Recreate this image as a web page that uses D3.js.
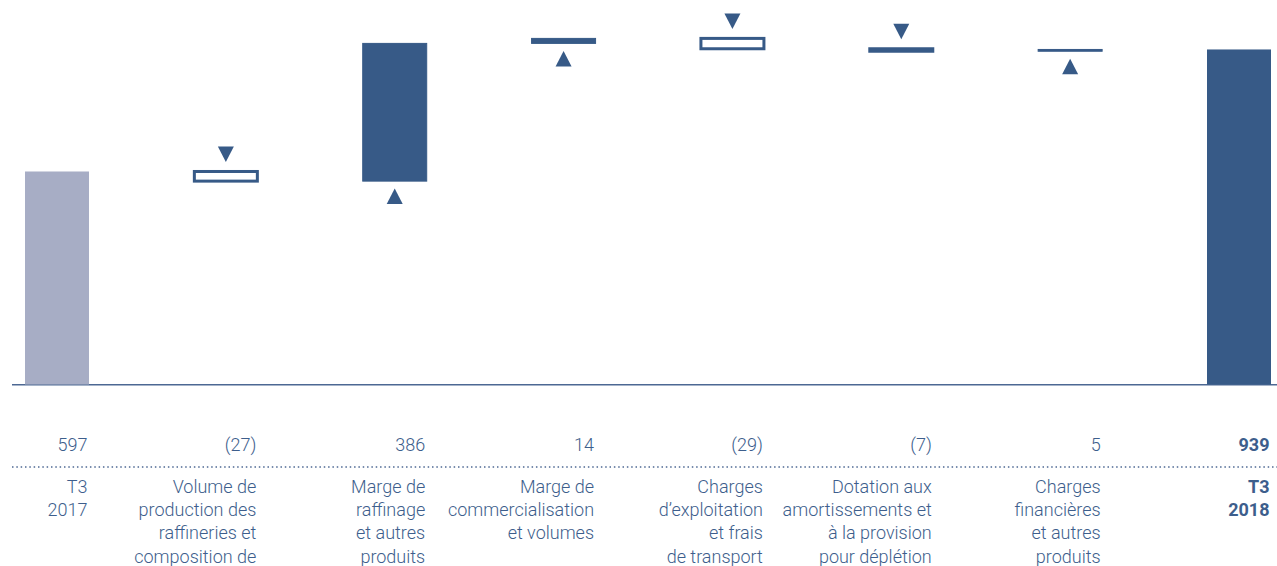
<!DOCTYPE html>
<html>
<head>
<meta charset="utf-8">
<script src="https://cdn.jsdelivr.net/npm/d3@7"></script>
<style>
  body { margin: 0; background: #fff; }
  svg text { font-family: Roboto, "Open Sans", sans-serif; font-size: 18px; font-weight: 300; fill: #3d5e8c; }
</style>
</head>
<body>
<script>
'use strict';

// chart data
const categories = ["t3_2017", "volume", "raffinage", "commercialisation", "charges_expl", "dotation", "charges_fin", "t3_2018"];
const values = [597, -27, 386, 14, -29, -7, 5, 939];
const isTotal = [true, false, false, false, false, false, false, true];
const labelLines = [
  ["T3", "2017"],
  ["Volume de", "production des", "raffineries et", "composition de"],
  ["Marge de", "raffinage", "et autres", "produits"],
  ["Marge de", "commercialisation", "et volumes"],
  ["Charges", "d\u2019exploitation", "et frais", "de transport"],
  ["Dotation aux", "amortissements et", "\u00e0 la provision", "pour d\u00e9pl\u00e9tion"],
  ["Charges", "financi\u00e8res", "et autres", "produits"],
  ["T3", "2018"]
];

const width = 1277, height = 566;
const dark = "#375a87";
const grey = "#a7adc5";

const svg = d3.select("body").append("svg")
  .attr("width", width)
  .attr("height", height);

// x: 8 bands of 64px, first starting at 25, last ending at 1271
const x = d3.scaleBand()
  .domain(categories)
  .range([25, 1271])
  .paddingInner(0.621)
  .paddingOuter(0);

const y = d3.scaleLinear()
  .domain([0, 1000])
  .range([384.5, 27.7]);

// running totals for the waterfall
let running = 0;
const steps = categories.map((c, i) => {
  let start, end;
  if (isTotal[i]) {
    start = 0; end = values[i]; running = values[i];
  } else {
    start = running; end = running + values[i]; running = end;
  }
  return { cat: c, i: i, start: start, end: end, v: values[i] };
});

// baseline
svg.append("line")
  .attr("x1", 12).attr("x2", width)
  .attr("y1", y(0) + 0.2).attr("y2", y(0) + 0.2)
  .attr("stroke", "#4d6893")
  .attr("stroke-width", 1.5);

// totals
svg.selectAll(".total")
  .data(steps.filter(d => isTotal[d.i]))
  .enter().append("rect")
  .attr("x", d => x(d.cat))
  .attr("width", x.bandwidth())
  .attr("y", d => y(d.end))
  .attr("height", d => y(0) - y(d.end))
  .attr("fill", d => d.i === 0 ? grey : dark);

// positive changes: filled
svg.selectAll(".up")
  .data(steps.filter(d => !isTotal[d.i] && d.v > 0))
  .enter().append("rect")
  .attr("x", d => x(d.cat))
  .attr("width", x.bandwidth())
  .attr("y", d => y(d.end))
  .attr("height", d => y(d.start) - y(d.end))
  .attr("fill", dark)
  .attr("stroke", dark)
  .attr("stroke-width", 1);

// negative changes: outlined
svg.selectAll(".down")
  .data(steps.filter(d => !isTotal[d.i] && d.v < 0))
  .enter().append("rect")
  .attr("x", d => x(d.cat) + 0.5)
  .attr("width", x.bandwidth() - 1)
  .attr("y", d => y(d.start))
  .attr("height", d => y(d.end) - y(d.start))
  .attr("fill", "#fff")
  .attr("stroke", dark)
  .attr("stroke-width", 3);

// arrows
const tw = 16, th = 15.5;
svg.selectAll(".arrow")
  .data(steps.filter(d => !isTotal[d.i]))
  .enter().append("path")
  .attr("fill", dark)
  .attr("d", d => {
    const cx = x(d.cat) + x.bandwidth() / 2;
    if (d.v < 0) {
      const b = y(d.start) - 9.5;
      return `M${cx - tw / 2},${b - th}L${cx + tw / 2},${b - th}L${cx},${b}Z`;
    } else {
      const t = y(d.start) + 7.5;
      return `M${cx - tw / 2},${t + th}L${cx + tw / 2},${t + th}L${cx},${t}Z`;
    }
  });

// value row
const fmt = v => v < 0 ? "(" + Math.abs(v) + ")" : String(v);
svg.selectAll(".val")
  .data(steps)
  .enter().append("text")
  .attr("x", d => x(d.cat) + x.bandwidth() - 1.5)
  .attr("y", 450.5)
  .attr("text-anchor", "end")
  .style("font-weight", d => isTotal[d.i] && d.i > 0 ? 700 : 300)
  .text(d => fmt(d.v));

// dotted separator
svg.append("line")
  .attr("x1", 12).attr("x2", width)
  .attr("y1", 467).attr("y2", 467)
  .attr("stroke", "#4d6893")
  .attr("stroke-width", 1.5)
  .attr("stroke-dasharray", "1.5,2.83");

// category labels
const lab = svg.selectAll(".lab")
  .data(steps)
  .enter().append("text")
  .attr("text-anchor", "end")
  .style("font-weight", d => isTotal[d.i] && d.i > 0 ? 700 : 300);

lab.selectAll("tspan")
  .data(d => labelLines[d.i].map(t => ({ t: t, d: d })))
  .enter().append("tspan")
  .attr("x", o => x(o.d.cat) + x.bandwidth() - 1.5)
  .attr("y", (o, j) => 493 + j * 23.2)
  .text(o => o.t);
</script>
</body>
</html>
